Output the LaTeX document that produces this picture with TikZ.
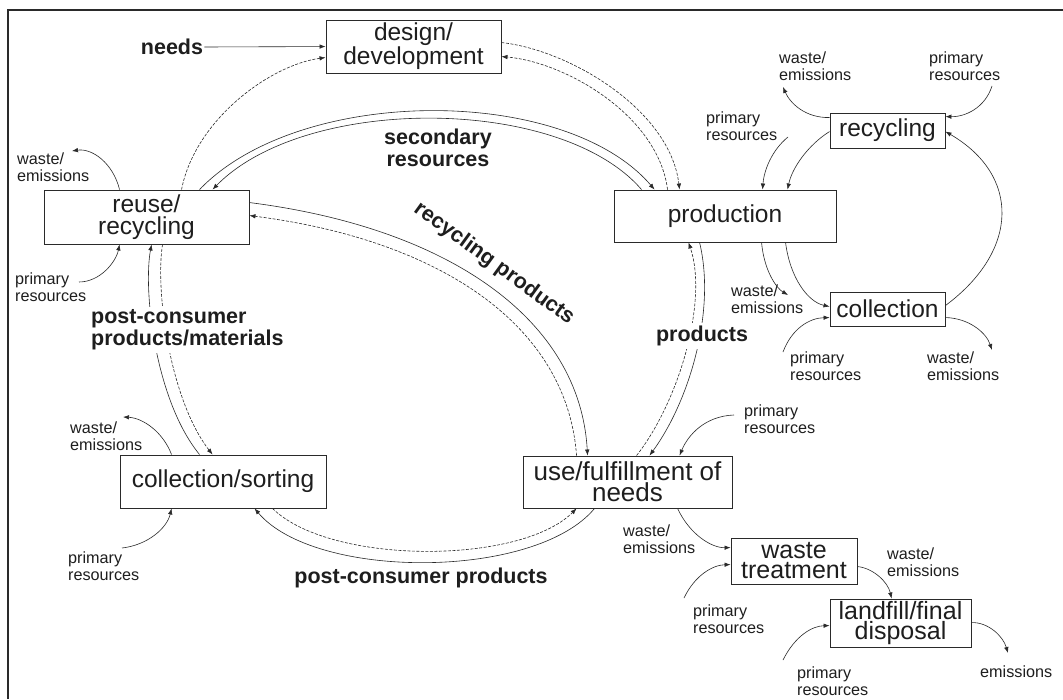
\documentclass[tikz,border=0pt]{standalone}
\usepackage{fontspec}
\setmainfont{Liberation Sans}
\usetikzlibrary{arrows.meta}
\definecolor{ink}{HTML}{1E1E1E}
\definecolor{ln}{HTML}{2A2A2A}
\begin{document}
\begin{tikzpicture}[x=1pt,y=-1pt,
  box/.style={draw=ln, line width=0.9pt, inner sep=0pt, align=center, font=\fontsize{24.5}{22}\selectfont, text=ink},
  bigbox/.style={box, font=\fontsize{26}{21}\selectfont},
  midbox/.style={box, font=\fontsize{25}{20}\selectfont},
  lbl/.style={font=\fontsize{21.5}{22}\selectfont\bfseries, text=ink, align=center, inner sep=1pt},
  sm/.style={font=\fontsize{16.2}{17}\selectfont, text=ink, align=left, inner sep=0pt, anchor=west},
  flow/.style={draw=ln, line width=0.6pt},
  arr/.style={flow, -{Latex[length=6pt,width=4.5pt]}},
  dsh/.style={dash pattern=on 3pt off 1.5pt}]
\useasboundingbox (0,0) rectangle (1063,699);
\fill[white] (0,0) rectangle (1063,699);
\draw[line width=2pt, ln] (8,699) -- (8,10) -- (1063,10);

% boxes
\node[box, minimum width=175pt, minimum height=53pt] (design) at (413.5,46.5) {design/\\development};
\node[box, minimum width=205pt, minimum height=54pt] (reuse) at (146.5,217) {reuse/\\recycling};
\node[box, minimum width=222pt, minimum height=52pt] (production) at (725,216) {production};
\node[box, minimum width=115pt, minimum height=35pt] (recyc) at (887.5,130.5) {recycling};
\node[box, minimum width=115pt, minimum height=34pt] (collection) at (887.5,309) {collection};
\node[box, minimum width=206pt, minimum height=53pt] (collsort) at (223,481.5) {collection/sorting};
\node[bigbox, minimum width=209pt, minimum height=52pt] (use) at (627.5,482) {use/fulfillment of\\needs};
\node[midbox, minimum width=126pt, minimum height=46pt] (waste) at (794,561) {waste\\treatment};
\node[midbox, minimum width=141pt, minimum height=48pt] (landfill) at (900.5,623) {landfill/final\\disposal};

% small labels
\node[sm] (wreuse) at (17,167) {waste/\\emissions};
\node[sm] (preuse) at (15,287) {primary\\resources};
\node[sm] (wrecyc) at (779,66) {waste/\\emissions};
\node[sm] (precyc) at (929,66) {primary\\resources};
\node[sm] (pprod) at (706,126) {primary\\resources};
\node[sm] (wprod) at (731,299) {waste/\\emissions};
\node[sm] (pcoll) at (790,366) {primary\\resources};
\node[sm] (wcoll) at (927,366) {waste/\\emissions};
\node[sm] (puse) at (744,419) {primary\\resources};
\node[sm] (wuse) at (623,539) {waste/\\emissions};
\node[sm] (pwaste) at (693,619) {primary\\resources};
\node[sm] (wwaste) at (887,562) {waste/\\emissions};
\node[sm] (pland) at (797,681) {primary\\resources};
\node[sm] (eland) at (980,672) {emissions};
\node[sm] (wcs) at (70,436) {waste/\\emissions};
\node[sm] (pcs) at (68,566) {primary\\resources};

% free ends
\coordinate (cwr) at (72,151);
\coordinate (cpr) at (79,282);
\coordinate (cwcs) at (123,417);
\coordinate (cpcs) at (122,548);
\coordinate (cwrc) at (783,87);
\coordinate (cprc) at (992,86);
\coordinate (cpp) at (788,137);
\coordinate (cwp) at (788,295);
\coordinate (cpc) at (783,352);
\coordinate (cwc) at (992,350);
\coordinate (cpu) at (734,415);
\coordinate (cpw) at (684,598);
\coordinate (cpl) at (783,660);
\coordinate (cel) at (1008,653);

% bold labels (non-interrupting)
\node[lbl] (needs) at (172,47) {needs};
\node[lbl] (secres) at (438,148) {secondary\\resources};
\node[lbl, rotate=-36] (recprod) at (494,264) {recycling products};
\node[lbl] (pcp) at (421,578) {post-consumer products};

% main cycle
\draw[arr] (needs.east) -- ([yshift=-27pt]design.north west);
\draw[arr, dsh] ([xshift=138pt]reuse.north west) .. controls (195,120) and (270,65) .. ([yshift=-38pt]design.north west);
\draw[arr, dsh] ([yshift=-23pt]design.north east) .. controls (570,50) and (670,110) .. ([xshift=66pt]production.north west);
\draw[arr, dsh] ([xshift=54pt]production.north west) .. controls (658,115) and (565,62) .. ([yshift=-37pt]design.north east);
\draw[arr] ([xshift=156pt]reuse.north west) .. controls (300,85) and (565,85) .. ([xshift=41pt]production.north west);
\draw[arr] ([xshift=28pt]production.north west) .. controls (560,95) and (305,95) .. ([xshift=169pt]reuse.north west);
\draw[arr] ([yshift=-13pt]reuse.north east) .. controls (450,228) and (580,320) .. ([xshift=65pt]use.north west);
\draw[arr, dsh] ([xshift=54pt]use.north west) .. controls (567,325) and (440,240) .. ([yshift=-26pt]reuse.north east);
\draw[arr] ([xshift=86pt]production.south west) .. controls (716,310) and (690,400) .. ([xshift=127pt]use.north west);
\draw[arr, dsh] ([xshift=114pt]use.north west) .. controls (680,400) and (708,300) .. ([xshift=75pt]production.south west);
\draw[arr] ([xshift=80pt]collsort.north west) .. controls (155,400) and (143,290) .. ([xshift=108pt]reuse.south west);
\draw[arr, dsh] ([xshift=119pt]reuse.south west) .. controls (155,290) and (170,400) .. ([xshift=93pt]collsort.north west);
\draw[arr, dsh] ([xshift=153pt]collsort.south west) .. controls (330,565) and (520,565) .. ([xshift=54pt]use.south west);
\draw[arr] ([xshift=72pt]use.south west) .. controls (535,580) and (315,580) .. ([xshift=135pt]collsort.south west);

% interrupting labels
\node[lbl, fill=white, inner sep=3pt] (products) at (702,336) {products};
\node[lbl, fill=white, inner sep=3pt, anchor=west, align=left] (pcpm) at (88,330) {post-consumer\\products/materials};

% side flows
\draw[arr] ([xshift=76pt]reuse.north west) .. controls (113,163) and (92,148) .. (cwr);
\draw[arr] (cpr) .. controls (100,282) and (116,262) .. ([xshift=76pt]reuse.south west);
\draw[arr] ([xshift=52pt]collsort.north west) .. controls (163,432) and (143,418) .. (cwcs);
\draw[arr] (cpcs) .. controls (148,545) and (167,528) .. ([xshift=52pt]collsort.south west);
\draw[arr] ([yshift=-5pt]recyc.north west) .. controls (805,118) and (790,103) .. (cwrc);
\draw[arr] (cprc) .. controls (985,108) and (965,117) .. ([yshift=-4pt]recyc.north east);
\draw[arr] (cpp) .. controls (772,150) and (764,170) .. ([xshift=149pt]production.north west);
\draw[arr] ([yshift=-19pt]recyc.north west) .. controls (808,145) and (792,168) .. ([xshift=174pt]production.north west);
\draw[arr] ([xshift=148pt]production.south west) .. controls (764,270) and (776,288) .. (cwp);
\draw[arr] ([xshift=172pt]production.south west) .. controls (790,278) and (808,302) .. ([yshift=-15pt]collection.north west);
\draw[arr] (cpc) .. controls (792,328) and (810,318) .. ([yshift=-26pt]collection.north west);
\draw[arr] ([yshift=-26pt]collection.north east) .. controls (968,318) and (986,332) .. (cwc);
\draw[arr] ([yshift=-14pt]collection.north east) .. controls (1020,250) and (1020,175) .. ([yshift=-19pt]recyc.north east);
\draw[arr] (cpu) .. controls (705,416) and (688,435) .. ([xshift=157pt]use.north west);
\draw[arr] ([xshift=155pt]use.south west) .. controls (690,535) and (712,548) .. ([yshift=-10pt]waste.north west);
\draw[arr] (cpw) .. controls (695,575) and (713,565) .. ([yshift=-27pt]waste.north west);
\draw[arr] ([yshift=-29pt]waste.north east) .. controls (873,568) and (888,582) .. ([xshift=62pt]landfill.north west);
\draw[arr] (cpl) .. controls (795,636) and (812,626) .. ([yshift=-27pt]landfill.north west);
\draw[arr] ([yshift=-24pt]landfill.north east) .. controls (988,622) and (1003,636) .. (cel);
\end{tikzpicture}
\end{document}
